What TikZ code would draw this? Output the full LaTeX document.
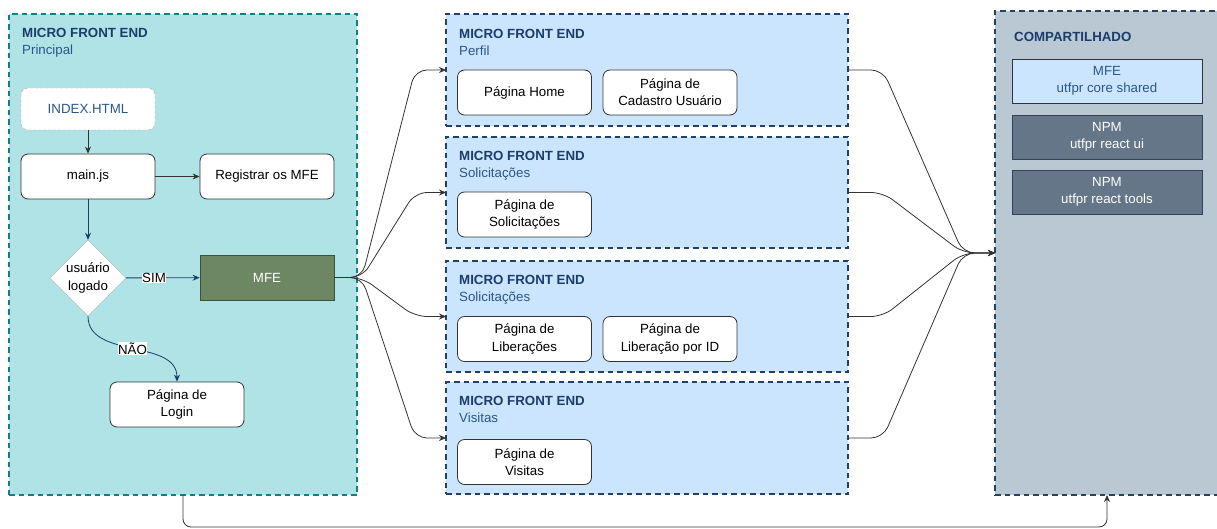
\documentclass[tikz,border=0pt]{standalone}
\usepackage{fontspec}
\setmainfont{Liberation Sans}
\usepackage{tikz}
\usetikzlibrary{positioning, arrows.meta, shapes.geometric, calc}
\usepackage{xcolor}
\definecolor{mfe-teal}{HTML}{B0E3E6}
\definecolor{mfe-teal-line}{HTML}{0E8088}
\definecolor{mfe-blue}{HTML}{CCE5FF}
\definecolor{mfe-blue-line}{HTML}{1E4270}
\definecolor{mfe-navy}{HTML}{1B3D6B}
\definecolor{mfe-sub}{HTML}{2A5689}
\definecolor{shared-grey}{HTML}{BAC8D3}
\definecolor{shared-line}{HTML}{23445D}
\definecolor{npm-fill}{HTML}{647687}
\definecolor{npm-line}{HTML}{314354}
\definecolor{mfe-green}{HTML}{6D8764}
\definecolor{mfe-green-line}{HTML}{3A5431}
\definecolor{link-grey}{HTML}{333333}

\tikzset{
	container/.style={draw, line width=1.6pt, dash pattern=on 5.5pt off 4pt, inner sep=0pt, outer sep=0pt},
	pagebox/.style={draw=black!80, fill=white, rounded corners=7pt, line width=0.8pt, minimum width=134pt, minimum height=45pt, align=center, inner sep=1pt},
	libbox/.style={draw=npm-line, fill=npm-fill, text=white, line width=0.8pt, minimum width=190pt, minimum height=44pt, align=center, inner sep=1pt},
	boxtitle/.style={anchor=north west, align=left, inner sep=0pt, text=mfe-navy},
	flow/.style={-{Stealth[length=7pt, width=6pt]}, line width=0.8pt, link-grey},
	navyflow/.style={-{Stealth[length=7pt, width=6pt]}, line width=0.8pt, mfe-navy},
	edgelabel/.style={fill=white, inner sep=0.5pt, text=black}
}

\begin{document}
\begin{tikzpicture}[x=1pt, y=-1pt, font=\fontsize{13.3}{17.2}\selectfont]
	\useasboundingbox (0,0) rectangle (1217,529);

	\node[container, draw=mfe-teal-line, fill=mfe-teal, minimum width=348pt, minimum height=481pt] at (183,254.5) (prin) {};
	\node[boxtitle] at (22,28) (prin-title) {\textbf{MICRO FRONT END}\\\textcolor{mfe-sub}{Principal}};

	\node[container, draw=mfe-blue-line, fill=mfe-blue, minimum width=402pt, minimum height=112pt] at (647,70) (perfil) {};
	\node[boxtitle] at (459,29) (perfil-title) {\textbf{MICRO FRONT END}\\\textcolor{mfe-sub}{Perfil}};
	\node[container, draw=mfe-blue-line, fill=mfe-blue, minimum width=402pt, minimum height=111pt] at (647,192.5) (solic) {};
	\node[boxtitle] at (459,151) (solic-title) {\textbf{MICRO FRONT END}\\\textcolor{mfe-sub}{Solicitações}};
	\node[container, draw=mfe-blue-line, fill=mfe-blue, minimum width=402pt, minimum height=111pt] at (647,316.5) (liber) {};
	\node[boxtitle] at (459,275) (liber-title) {\textbf{MICRO FRONT END}\\\textcolor{mfe-sub}{Solicitações}};
	\node[container, draw=mfe-blue-line, fill=mfe-blue, minimum width=402pt, minimum height=112pt] at (647,438) (visit) {};
	\node[boxtitle] at (459,396) (visit-title) {\textbf{MICRO FRONT END}\\\textcolor{mfe-sub}{Visitas}};

	\node[container, draw=shared-line, fill=shared-grey, minimum width=224pt, minimum height=484pt] at (1107,253) (comp) {};
	\node[boxtitle] at (1014,32) (comp-title) {\textbf{COMPARTILHADO}};

	\node[draw=black!35, dash pattern=on 3pt off 2pt, fill=white, rounded corners=7pt, minimum width=134pt, minimum height=42pt, text=mfe-sub] at (88,109) (index) {INDEX.HTML};
	\node[pagebox] at (88,176.5) (mainjs) {main.js};
	\node[pagebox] at (267,176.5) (regis) {Registrar os MFE};
	\node[diamond, draw=black!30, fill=white, minimum width=76pt, minimum height=76pt, inner sep=0pt, align=center] at (88,278) (logado) {usuário\\logado};
	\node[draw=mfe-green-line, fill=mfe-green, text=white, line width=0.8pt, minimum width=134pt, minimum height=45pt] at (267,277.5) (mfe) {MFE};
	\node[pagebox] at (177,404.5) (login) {Página de\\Login};

	\node[pagebox] at (524.5,92.5) (home) {Página Home};
	\node[pagebox] at (670,92.5) (cadastro) {Página de\\Cadastro Usuário};
	\node[pagebox] at (524.5,214.5) (solpage) {Página de\\Solicitações};
	\node[pagebox] at (524.5,339) (libpage) {Página de\\Liberações};
	\node[pagebox] at (670,339) (libid) {Página de\\Liberação por ID};
	\node[pagebox] at (524.5,462) (vispage) {Página de\\Visitas};

	\node[draw=black!80, fill=mfe-blue, text=mfe-sub, line width=0.8pt, minimum width=190pt, minimum height=44pt, align=center, inner sep=1pt] at (1107,81) (core) {MFE\\utfpr core shared};
	\node[libbox] at (1107,137) (ui) {NPM\\utfpr react ui};
	\node[libbox] at (1107,192) (tools) {NPM\\utfpr react tools};

	\draw[flow] (index) -- (mainjs);
	\draw[flow] (mainjs) -- (regis);
	\draw[navyflow] (mainjs) -- (logado);
	\draw[navyflow] (logado) -- node[edgelabel, pos=0.38] {SIM} (mfe);
	\draw[navyflow] (logado.south) to[out=-90, in=90] node[edgelabel] {NÃO} (login.north);

	\coordinate (fork) at (362,277.5);
	\coordinate (join) at (963,253);
	\foreach \mfebox in {perfil, solic, liber, visit}{
		\draw[flow, rounded corners=12pt] (mfe.east) -- (fork) -- (415,0 |- \mfebox.west) -- (\mfebox.west);
		\draw[flow, rounded corners=12pt] (\mfebox.east) -- (883,0 |- \mfebox.east) -- (join) -- (comp.west);
	}

	\draw[flow, rounded corners=8pt] (prin.south) -- (183,527) -- (comp.south |- 0,527) -- (comp.south);
\end{tikzpicture}
\end{document}
